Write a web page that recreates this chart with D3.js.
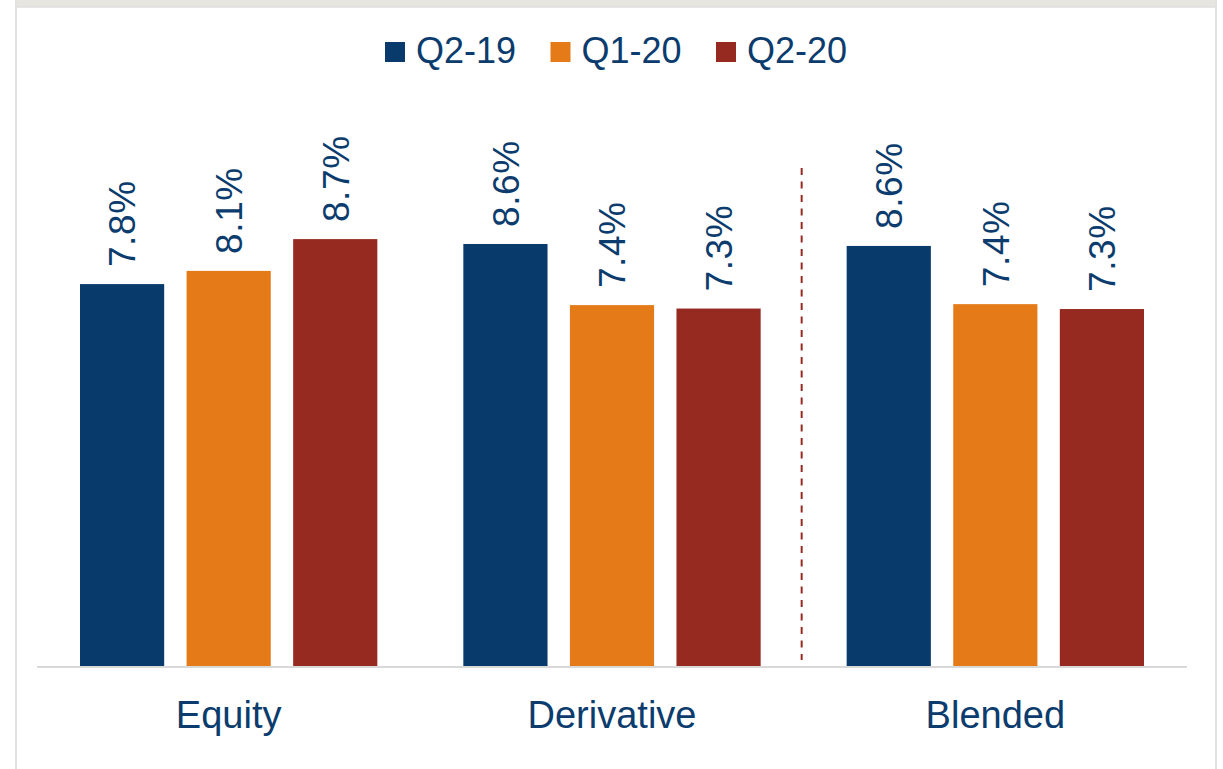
<!DOCTYPE html>
<html lang="en">

<head>
  <meta charset="UTF-8" />
  <title>Bar chart</title>
  <script src="https://d3js.org/d3.v7.min.js"></script>
  <style>
    * {
      margin: 0;
      padding: 0;
      box-sizing: border-box;
    }

    body {
      background: #fff;
      font-family: "Liberation Sans", Arial, sans-serif;
    }
  </style>
</head>

<body>
  <script>
    // data
    const categories = ['Equity', 'Derivative', 'Blended'];
    const series = ['Q2-19', 'Q1-20', 'Q2-20'];
    const equity = [7.81, 8.08, 8.73];
    const derivative = [8.63, 7.38, 7.31];
    const blended = [8.59, 7.40, 7.30];
    const colors = ['#083a6b', '#e57a19', '#972a20'];

    const values = [equity, derivative, blended];
    const rows = [];
    categories.forEach((c, i) => series.forEach((s, j) => rows.push({ cat: c, ser: s, v: values[i][j] })));

    const [w, h] = [1223, 769];
    const textColor = '#0b3c6d';

    const svg = d3.select('body').append('svg')
      .attr('width', w)
      .attr('height', h);

    // frame
    svg.append('rect').attr('x', 15).attr('y', 0).attr('width', 1202).attr('height', 7).attr('fill', '#e6e5df');
    svg.append('line').attr('x1', 15).attr('x2', 1217).attr('y1', 7).attr('y2', 7).attr('stroke', '#dedede').attr('stroke-width', 1.5);
    svg.append('line').attr('x1', 16).attr('x2', 16).attr('y1', 0).attr('y2', h).attr('stroke', '#e2e2e2').attr('stroke-width', 2);
    svg.append('line').attr('x1', 1216).attr('x2', 1216).attr('y1', 0).attr('y2', h).attr('stroke', '#e2e2e2').attr('stroke-width', 2);

    // scales
    const x = d3.scaleBand().domain(categories).range([37, 1187]);
    const xs = d3.scaleBand().domain(series).range([43, x.bandwidth() - 43]).paddingInner(0.21);
    const y = d3.scaleLinear().domain([0, 10]).range([666, 177]);
    const color = d3.scaleOrdinal().domain(series).range(colors);

    // bars
    svg.append('g').selectAll('rect')
      .data(rows)
      .join('rect')
      .attr('x', d => x(d.cat) + xs(d.ser))
      .attr('y', d => y(d.v))
      .attr('width', xs.bandwidth())
      .attr('height', d => y(0) - y(d.v))
      .attr('fill', d => color(d.ser));

    // value labels
    svg.append('g').selectAll('text')
      .data(rows)
      .join('text')
      .attr('transform', d => `translate(${x(d.cat) + xs(d.ser) + xs.bandwidth() / 2}, ${y(d.v) - 17}) rotate(-90)`)
      .attr('dy', '0.36em')
      .attr('fill', textColor)
      .style('font-size', '37px')
      .style('letter-spacing', '0.6px')
      .text(d => d.v.toFixed(1) + '%');

    // baseline
    svg.append('line')
      .attr('x1', x.range()[0]).attr('x2', x.range()[1])
      .attr('y1', y(0) + 1).attr('y2', y(0) + 1)
      .attr('stroke', '#d9d9d9')
      .attr('stroke-width', 2);

    // category axis
    const xAxis = d3.axisBottom(x).tickSize(0).tickPadding(0);
    const gx = svg.append('g')
      .attr('transform', `translate(0, ${y(0)})`)
      .call(xAxis);
    gx.select('.domain').remove();
    gx.selectAll('text')
      .attr('dy', 0)
      .attr('y', 62)
      .attr('fill', textColor)
      .style('font-family', '"Liberation Sans", Arial, sans-serif')
      .style('font-size', '38px');

    // divider
    svg.append('line')
      .attr('x1', x('Blended') - 2).attr('x2', x('Blended') - 2)
      .attr('y1', 168).attr('y2', 660)
      .attr('stroke', '#972a20')
      .attr('stroke-width', 2)
      .attr('stroke-dasharray', '7 6.5');

    // legend
    const legend = svg.append('g').attr('transform', 'translate(385, 42)');
    const item = legend.selectAll('g')
      .data(series)
      .join('g')
      .attr('transform', (d, i) => `translate(${i * 165.5}, 0)`);
    item.append('rect')
      .attr('width', 20).attr('height', 20)
      .attr('fill', d => color(d));
    item.append('text')
      .attr('x', 31).attr('y', 20.5)
      .attr('fill', textColor)
      .style('font-size', '36px')
      .text(d => d);
  </script>
</body>

</html>
